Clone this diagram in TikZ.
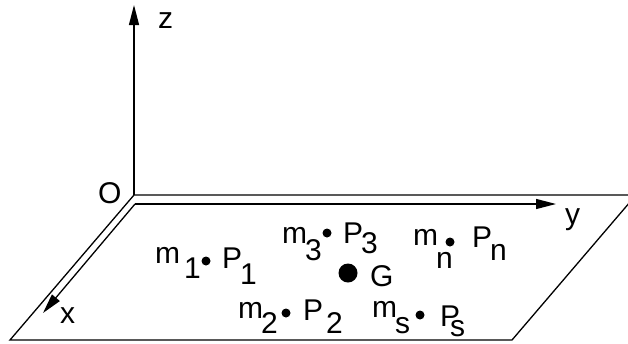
\documentclass[tikz,border=0pt]{standalone}
\usepackage{fontspec}
\setmainfont{Liberation Sans}
\usetikzlibrary{arrows.meta}

\newcommand{\lowered}[2][15pt]{\raisebox{-#1}{#2}}

\begin{document}
\begin{tikzpicture}[
            x=1pt, y=-1pt,
            edge/.style={line width=1.3pt},
            axis/.style={-{Triangle[length=20pt,width=10pt]}, line width=1.3pt},
            mass/.style={circle, fill, inner sep=0pt, minimum size=9pt},
            centre/.style={circle, fill, inner sep=0pt, minimum size=19pt},
            lbl/.style={anchor=base west, inner sep=0pt, font=\fontsize{30}{34}\selectfont}
        ]
            \useasboundingbox (0,0) rectangle (628,343);
            \clip (0,0) rectangle (628,343);

            % plane and axes
            \coordinate (top) at (134,195);
            \coordinate (o) at (135,204);
            \draw[edge] (top) -- (636,195) -- (512,340) -- (10,340) -- cycle;
            \coordinate (zend) at (134,5);
            \coordinate (yend) at (556,204);
            \coordinate (xend) at (43,313);
            \draw[axis] (top) -- (zend);
            \draw[axis] (o) -- (yend);
            \draw[axis] (o) -- (xend);

            \node[lbl] (lo) at (98,203) {O};
            \node[lbl] (lz) at (158,28) {z};
            \node[lbl] (ly) at (565,224) {y};
            \node[lbl] (lx) at (60,323) {x};

            % masses
            \node[mass] (p1) at (206,261) {};
            \node[mass] (p2) at (286,313) {};
            \node[mass] (p3) at (327,233) {};
            \node[mass] (pn) at (450,242) {};
            \node[mass] (ps) at (420,315) {};
            \node[centre] (g) at (348,273) {};

            \node[lbl] (m1) at (155,263) {m\hspace{4pt}\lowered{1}};
            \node[lbl] (lp1) at (222,268) {P\hspace{-2pt}\lowered[16pt]{1}};
            \node[lbl] (m3) at (282,243) {m\hspace{-2pt}\lowered[17pt]{3}};
            \node[lbl] (lp3) at (343,243) {P\hspace{-2pt}\lowered[10pt]{3}};
            \node[lbl] (lg) at (370,286) {G};
            \node[lbl] (mn) at (413,245) {m\hspace{-2pt}\lowered[23pt]{n}};
            \node[lbl] (lpn) at (472,247) {P\hspace{-2pt}\lowered[13pt]{n}};
            \node[lbl] (m2) at (238,318) {m\hspace{-2pt}\lowered{2}};
            \node[lbl] (lp2) at (303,320) {P\hspace{3pt}\lowered[13pt]{2}};
            \node[lbl] (ms) at (372,317) {m\hspace{-2pt}\lowered[16pt]{s}};
            \node[lbl] (lps) at (440,326) {P\hspace{-10pt}\lowered[10pt]{s}};
        \end{tikzpicture}
\end{document}
